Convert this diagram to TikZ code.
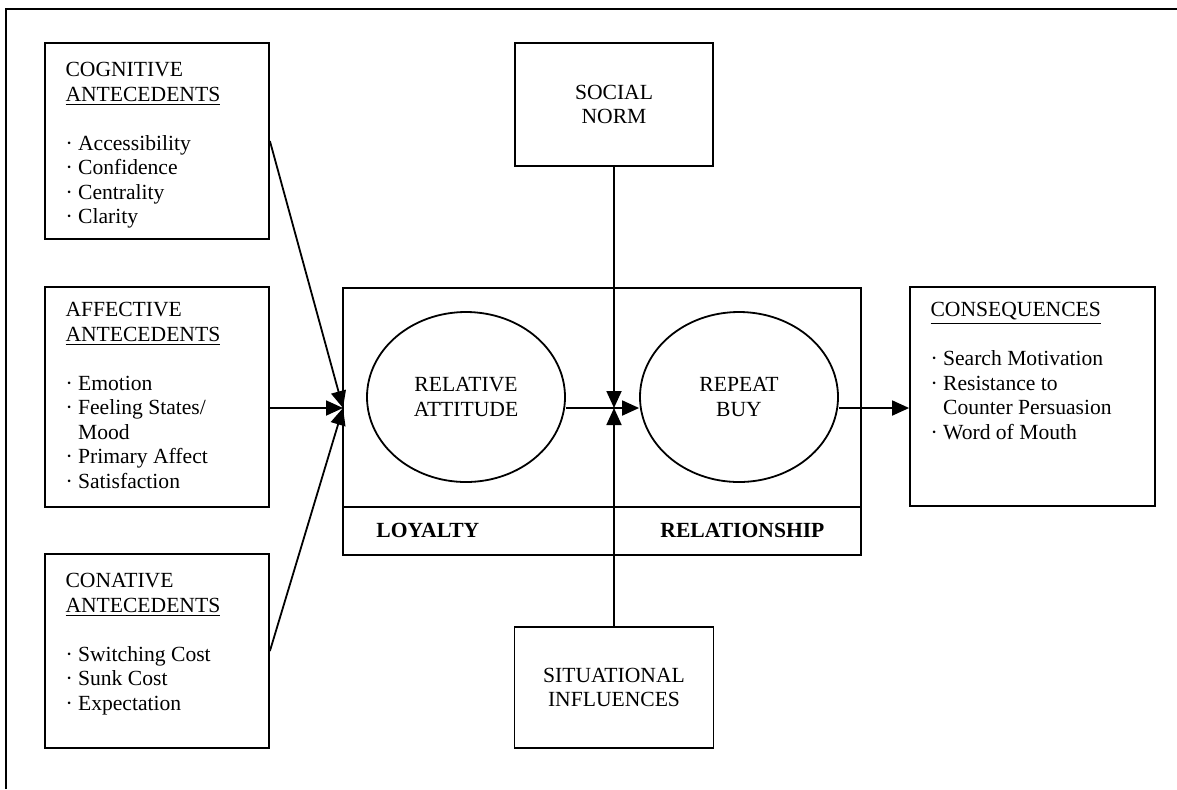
\documentclass[tikz,border=0pt]{standalone}
\usepackage{fontspec}
\setmainfont{Liberation Serif}
\usepackage{tikz}
\usetikzlibrary{arrows.meta,shapes.geometric}

\tikzset{
    box/.style={draw, line width=0.9pt, rectangle, inner sep=0pt, align=center},
    bubble/.style={draw, line width=0.9pt, ellipse, inner sep=0pt, minimum width=99pt, minimum height=85pt, align=center},
    list/.style={anchor=north west, inner sep=0pt, align=left},
    arr/.style={line width=0.9pt, -{Triangle[length=8.5pt,width=7.5pt]}},
}

\begin{document}
\begin{tikzpicture}[x=0.5pt,y=-0.5pt,font=\fontsize{10.8}{12.3}\selectfont]
        \useasboundingbox (0,0) rectangle (1177,789);
        \draw[line width=0.8pt] (6,789) -- (6,9) -- (1177,9);

        \node[box, minimum width=112pt, minimum height=98pt] (cog) at (157,141) {};
        \node[box, minimum width=112pt, minimum height=110pt] (aff) at (157,397) {};
        \node[box, minimum width=112pt, minimum height=97pt] (con) at (157,651) {};
        \node[box, minimum width=122.5pt, minimum height=109.5pt] (conseq) at (1032.5,396.5) {};

        \node[list] (cogtext) at ([shift={(21,20)}]cog.north west) {COGNITIVE\\ \underline{ANTECEDENTS}\\[12pt] · Accessibility\\ · Confidence\\ · Centrality\\ · Clarity};
        \node[list] (afftext) at ([shift={(21,16)}]aff.north west) {AFFECTIVE\\ \underline{ANTECEDENTS}\\[12pt] · Emotion\\ · Feeling States/\\ \hphantom{· }Mood\\ · Primary Affect\\ · Satisfaction};
        \node[list] (context) at ([shift={(21,20)}]con.north west) {CONATIVE\\ \underline{ANTECEDENTS}\\[12pt] · Switching Cost\\ · Sunk Cost\\ · Expectation};
        \node[list] (conseqtext) at ([shift={(21,16)}]conseq.north west) {\underline{CONSEQUENCES}\\[12pt] · Search Motivation\\ · Resistance to\\ \hphantom{· }Counter Persuasion\\ · Word of Mouth};

        \node[box, minimum width=99pt, minimum height=61.5pt] (social) at (614,104.5) {SOCIAL\\NORM};
        \node[box, minimum width=99.5pt, minimum height=60.5pt] (situ) at (614,687.5) {SITUATIONAL\\INFLUENCES};

        \draw[line width=0.9pt] (343,288) rectangle (861,555);
        \draw[line width=0.9pt] (343,507) -- (861,507);
        \node[bubble] (relatt) at (466,397) {RELATIVE\\ATTITUDE};
        \node[bubble] (repbuy) at (739,397) {REPEAT\\BUY};
        \node[anchor=west, inner sep=0pt] (loyal) at (376,530) {\textbf{LOYALTY}};
        \node[anchor=west, inner sep=0pt] (relship) at (660,530) {\textbf{RELATIONSHIP}};

        \coordinate (in) at (343,408);
        \coordinate (hub) at (614,408);

        \draw[arr] (cog.east) -- (in);
        \draw[arr] (aff.east |- in) -- (in);
        \draw[arr] (con.east) -- (in);
        \draw[arr] (social.south) -- (hub);
        \draw[arr] (situ.north) -- (hub);
        \draw[arr] (relatt.east |- hub) -- (repbuy.west |- hub);
        \draw[arr] (repbuy.east |- hub) -- (conseq.west |- hub);
    \end{tikzpicture}
\end{document}
